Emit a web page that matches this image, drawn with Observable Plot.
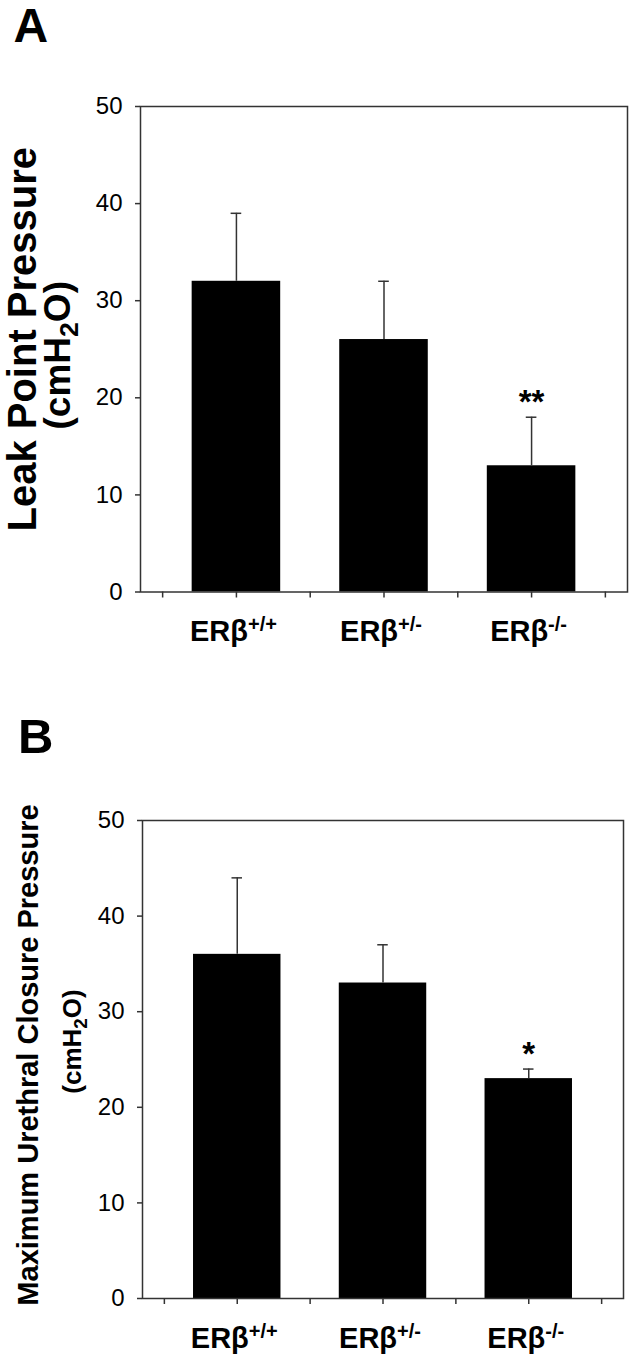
<!DOCTYPE html>
<html><head><meta charset="utf-8">
<script src="https://cdn.jsdelivr.net/npm/d3@7"></script>
<script src="https://cdn.jsdelivr.net/npm/@observablehq/plot@0.6"></script>
<style>
body{margin:0;background:#fff;}
#wrap{position:relative;width:634px;height:1363px;overflow:hidden;background:#fff;}
.panel{position:absolute;left:0;}
</style></head><body><div id="wrap"></div>
<script>
// ---- data ----
const genotypes = ["ERβ+/+", "ERβ+/-", "ERβ-/-"];
const leakMean = [32, 26, 13];
const leakErr  = [7, 6, 5];
const leakSig  = ["", "", "**"];
const mucpMean = [36, 33, 23];
const mucpErr  = [8, 4, 1];
const mucpSig  = ["", "", "*"];
const yTicks = [0, 10, 20, 30, 40, 50];
const xTicks = [-0.5, 0, 0.5, 1, 1.5, 2, 2.5];
const FONT = "'Liberation Sans', Arial, Helvetica, sans-serif";

function panel(o) {
  const data = genotypes.map((g, i) => ({i, g, mean: o.mean[i], hi: o.mean[i] + o.err[i], sig: o.sig[i]}));
  const svg = Plot.plot({
    width: 634, height: o.height,
    marginLeft: o.ml, marginRight: o.mr, marginTop: o.mt, marginBottom: o.mb,
    style: {fontFamily: FONT, background: "white", color: "black", overflow: "visible"},
    x: {domain: [-0.65, 2.65], axis: null},
    y: {domain: [0, 50], axis: null},
    marks: [
      Plot.rectY(data, {x1: d => d.i - 0.3, x2: d => d.i + 0.3, y1: 0, y2: "mean", fill: "black"}),
      Plot.ruleX(data, {x: "i", y1: "mean", y2: "hi", stroke: "#333", strokeWidth: 1.5}),
      Plot.ruleY(data, {x1: d => d.i - 0.036, x2: d => d.i + 0.036, y: "hi", stroke: "#333", strokeWidth: 1.5}),
      Plot.text(data, {x: "i", y: "hi", text: "sig", lineAnchor: "bottom", dy: -4, fontSize: 33, fontWeight: "bold", fill: "black"}),
      Plot.frame({stroke: "#333", strokeWidth: 1.5}),
      Plot.axisY({ticks: yTicks, tickSize: 5, tickPadding: 13, fontSize: 24, stroke: "#333", strokeWidth: 1.5, label: null, fill: "black"}),
      Plot.axisX({ticks: xTicks, tickSize: 6, tickFormat: () => "", stroke: "#333", strokeWidth: 1.5, label: null}),
      Plot.text(data, {x: "i", y: 0, text: "g", dy: 49, dx: -3, lineAnchor: "bottom", textAnchor: "middle", fontSize: 29, fontWeight: "bold", fill: "black"}),
      Plot.text([o.title1], {frameAnchor: "left", text: d => d, rotate: -90, textAnchor: "middle", lineAnchor: "middle", dx: o.t1dx, dy: o.t1dy, fontSize: o.t1fs, fontWeight: "bold", fill: "black"}),
      Plot.text([o.title2], {frameAnchor: "left", text: d => d, rotate: -90, textAnchor: "middle", lineAnchor: "middle", dx: o.t2dx, dy: o.t2dy, fontSize: o.t2fs, fontWeight: "bold", fill: "black"}),
      Plot.text([o.letter], {frameAnchor: "top-left", text: d => d, textAnchor: "start", lineAnchor: "bottom", dx: o.ldx, dy: o.ldy, fontSize: o.lfs, fontWeight: "bold", fill: "black"})
    ]
  });
  // superscripts / subscripts
  d3.select(svg).selectAll("text").each(function () {
    const t = this.textContent;
    const sel = d3.select(this);
    if (genotypes.includes(t) && this.childElementCount === 0) {
      this.textContent = "";
      sel.append("tspan").text(t.slice(0, 3));
      sel.append("tspan").attr("font-size", 20).attr("dy", -10).text(t.slice(3));
    } else if (t === "(cmH2O)" && this.childElementCount === 0) {
      const fs = +o.t2fs;
      this.textContent = "";
      sel.append("tspan").text("(cmH");
      sel.append("tspan").attr("font-size", fs * 0.72).attr("dy", fs * 0.22).text("2");
      sel.append("tspan").attr("dy", -fs * 0.22).text("O)");
    }
  });
  svg.classList.add("panel");
  svg.style.top = o.top + "px";
  return svg;
}

const wrap = document.getElementById("wrap");
wrap.appendChild(panel({
  mean: leakMean, err: leakErr, sig: leakSig,
  top: 0, height: 680, ml: 140, mr: 7, mt: 106, mb: 88.5,
  title1: "Leak Point Pressure", t1fs: 40, t1dx: -117, t1dy: -10,
  title2: "(cmH2O)", t2fs: 37, t2dx: -82, t2dy: 6,
  letter: "A", lfs: 48, ldx: -127, ldy: -65
}));
wrap.appendChild(panel({
  mean: mucpMean, err: mucpErr, sig: mucpSig,
  top: 680, height: 683, ml: 142, mr: 11, mt: 140, mb: 65,
  title1: "Maximum Urethral Closure Pressure", t1fs: 29, t1dx: -114, t1dy: -4.5,
  title2: "(cmH2O)", t2fs: 26, t2dx: -69.8, t2dy: -18,
  letter: "B", lfs: 49, ldx: -124.5, ldy: -68
}));
</script></body></html>
